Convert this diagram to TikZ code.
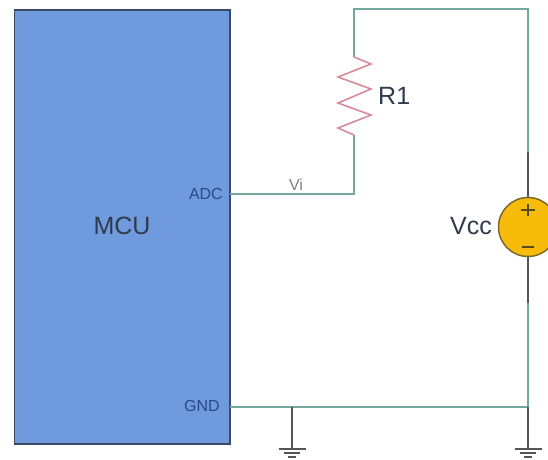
\documentclass[tikz,border=0pt]{standalone}
\usepackage{fontspec}
\setmainfont{Liberation Sans}
\definecolor{mcublue}{HTML}{6F9BDE}
\definecolor{mcuedge}{HTML}{3A4A66}
\definecolor{wire}{HTML}{72A89E}
\definecolor{dark}{HTML}{555555}
\definecolor{resred}{HTML}{D98A98}
\definecolor{srcfill}{HTML}{F7BC0A}
\definecolor{srcedge}{HTML}{7A6A30}
\definecolor{labeltxt}{HTML}{2F3A4A}
\definecolor{pintxt}{HTML}{2A4A86}
\tikzset{
  wireline/.style={draw=wire,line width=1.7pt,line join=miter},
  darkline/.style={draw=dark,line width=1.5pt},
  resline/.style={draw=resred,line width=1.6pt},
  pin/.style={font=\fontsize{16}{18}\selectfont,text=pintxt,inner sep=0pt},
  biglabel/.style={font=\fontsize{25}{28}\selectfont,text=labeltxt,inner sep=0pt},
}
\begin{document}
\begin{tikzpicture}[x=1pt,y=-1pt]
\useasboundingbox (0,0) rectangle (548,459);
\clip (0,0) rectangle (548,459);
\node[draw=mcuedge,line width=1.8pt,fill=mcublue,minimum width=215.5pt,minimum height=434pt,inner sep=0pt,anchor=north west] (mcu) at (13.5,8.7) {};
\node[biglabel] (mculabel) at (122,226) {MCU};
\node[pin,anchor=east] (adc) at (223,194) {ADC};
\node[pin,anchor=east] (gnd) at (220,406) {GND};
\coordinate (adcpin) at (230,194);
\coordinate (gndpin) at (230,407);
\coordinate (rbot) at (354,135);
\coordinate (rtop) at (354,57);
\coordinate (topl) at (354,9);
\coordinate (topr) at (528,9);
\coordinate (wirejoin) at (528,152);
\coordinate (gndjoin) at (528,407);
\coordinate (gndmid) at (292,407);
\coordinate (g1) at (292,449);
\coordinate (g2) at (528,449);
\node[draw=srcedge,line width=1.5pt,fill=srcfill,circle,minimum size=59pt,inner sep=0pt] (vcc) at (528,227) {};
\draw[wireline] (adcpin) -- (rbot |- adcpin) -- (rbot);
\draw[wireline] (rtop) -- (topl) -- (topr) -- (wirejoin);
\draw[darkline] (wirejoin) -- (vcc.north);
\draw[darkline] (vcc.south) -- (528,303);
\draw[wireline] (528,303) -- (gndjoin);
\draw[wireline] (gndpin) -- (gndjoin);
\draw[darkline] (gndjoin) -- (g2);
\draw[darkline] (gndmid) -- (g1);
\draw[resline,line join=miter] (rtop) -- (371,64) -- (338,77) -- (371,89) -- (338,103) -- (371,115) -- (338,128) -- (rbot);
\foreach \c in {g1,g2}{
  \draw[darkline] ([xshift=-13.5pt]\c) -- ([xshift=13.5pt]\c);
  \draw[darkline] ([xshift=-8pt,yshift=-4pt]\c) -- ([xshift=8pt,yshift=-4pt]\c);
  \draw[darkline] ([xshift=-4pt,yshift=-8pt]\c) -- ([xshift=4pt,yshift=-8pt]\c);
}
\draw[draw=srcedge!70!black,line width=1.5pt] (521,210) -- (535,210) (528,204) -- (528,216);
\draw[draw=srcedge!70!black,line width=1.6pt] (522,247) -- (534,247);
\node[biglabel,anchor=west] (r1) at (378,96) {R1};
\node[biglabel,anchor=east] (vcclabel) at (492,226) {Vcc};
\node[font=\fontsize{16}{18}\selectfont,text=gray,inner sep=0pt] (vi) at (296,185) {Vi};
\end{tikzpicture}
\end{document}
